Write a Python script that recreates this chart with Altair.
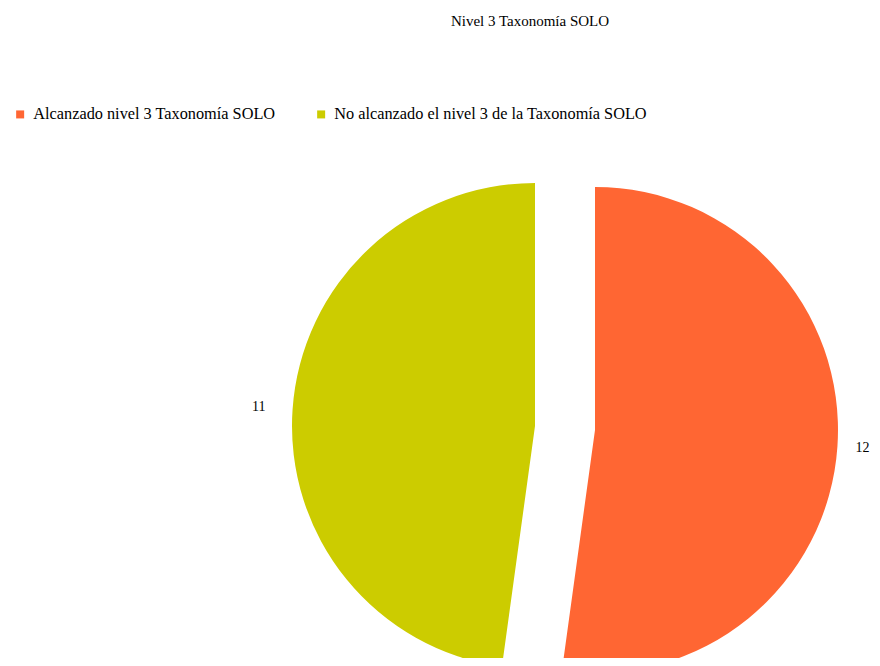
import altair as alt
import pandas as pd

title_text = "Nivel 3 Taxonomía SOLO"
categories = ["Alcanzado nivel  3 Taxonomía SOLO", "No alcanzado el nivel 3 de la Taxonomía SOLO"]
values = [12, 11]
colors = ["#FF6633", "#CCCC00"]
order = [0, 1]

df = pd.DataFrame({"category": categories, "value": values, "order": order})

W, H = 864, 650
CX, CY = 557, 420
R = 243
label_radii = [268, 277]
offsets = [(30, 2), (-30, -2)]

base = (
    alt.Chart(df)
    .transform_joinaggregate(total="sum(value)")
    .transform_window(cum="sum(value)", sort=[alt.SortField("order")], frame=[None, 0])
    .transform_calculate(
        start="(datum.cum - datum.value) / datum.total * 2 * PI",
        end="datum.cum / datum.total * 2 * PI",
        mid="(datum.cum - datum.value / 2) / datum.total * 2 * PI",
    )
)

color = alt.Color(
    "category:N",
    scale=alt.Scale(domain=categories, range=colors),
    sort=categories,
    legend=alt.Legend(
        title=None,
        orient="none",
        legendX=4,
        legendY=98,
        direction="horizontal",
        symbolType="square",
        symbolSize=64,
        symbolStrokeWidth=0,
        labelFont="Liberation Serif",
        labelFontSize=16.3,
        labelColor="#000000",
        labelOffset=5,
        columnPadding=33,
        labelLimit=400,
    ),
)

layers = []
for i, cat in enumerate(categories):
    dx, dy = offsets[i]
    sub = base.transform_filter(alt.datum.category == cat)
    arc = sub.mark_arc(outerRadius=R, xOffset=dx, yOffset=dy, stroke=None).encode(
        theta=alt.Theta("start:Q", scale=None),
        theta2="end:Q",
        color=color,
        x=alt.value(CX),
        y=alt.value(CY),
    )
    txt = sub.mark_text(
        radius=label_radii[i], xOffset=dx, yOffset=dy, font="Liberation Serif", fontSize=14, color="#000000"
    ).encode(
        theta=alt.Theta("mid:Q", scale=None),
        text=alt.Text("value:Q"),
        x=alt.value(CX),
        y=alt.value(CY),
    )
    layers += [arc, txt]

title = alt.Chart(pd.DataFrame({"t": [title_text]})).mark_text(
    font="Liberation Serif", fontSize=15, color="#000000", align="center", baseline="middle"
).encode(text="t:N", x=alt.value(522), y=alt.value(13))

chart = (
    alt.layer(*layers, title)
    .properties(width=W, height=H, padding=0, autosize=alt.AutoSizeParams(type="none"))
    .configure_view(stroke=None)
)

chart.save("out.html", embed_options={"renderer": "svg", "actions": False})
